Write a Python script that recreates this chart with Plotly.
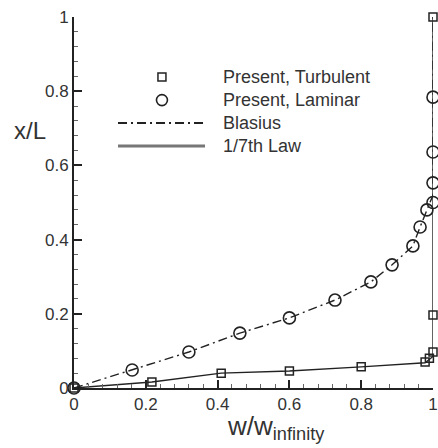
import plotly.graph_objects as go

# ---- data ----
turb_w = [0.0, 0.217, 0.41, 0.60, 0.80, 0.978, 0.99, 1.0, 1.0, 1.0]
turb_x = [0.0, 0.016, 0.040, 0.046, 0.057, 0.070, 0.080, 0.097, 0.197, 1.0]

lam_w = [0.0, 0.162, 0.32, 0.462, 0.60, 0.727, 0.827, 0.886, 0.944, 0.964, 0.983, 1.0, 1.0, 1.0, 1.0]
lam_x = [0.0, 0.0485, 0.097, 0.148, 0.189, 0.237, 0.286, 0.332, 0.383, 0.434, 0.48, 0.50, 0.553, 0.636, 0.784]

blasius_w = [0.0, 0.162, 0.32, 0.462, 0.60, 0.727, 0.827, 0.886, 0.944, 0.964, 0.983, 1.0, 1.0]
blasius_x = [0.0, 0.0485, 0.097, 0.148, 0.189, 0.237, 0.286, 0.332, 0.383, 0.434, 0.48, 0.52, 1.0]

law_w = [0.0, 0.217, 0.41, 0.60, 0.80, 0.978, 1.0, 1.0]
law_x = [0.0, 0.016, 0.040, 0.046, 0.057, 0.068, 0.085, 1.0]

legend_labels = ["Present, Turbulent", "Present, Laminar", "Blasius", "1/7th Law"]
tick_vals = [0, 0.2, 0.4, 0.6, 0.8, 1]
tick_text = ["0", "0.2", "0.4", "0.6", "0.8", "1"]

INK = "#222222"
TXT = "#333333"
FONT = "Liberation Sans, Arial, sans-serif"

fig = go.Figure()
fig.add_trace(go.Scatter(x=law_w, y=law_x, mode="lines",
                         line=dict(color=INK, width=1.4), cliponaxis=False))
fig.add_trace(go.Scatter(x=blasius_w, y=blasius_x, mode="lines",
                         line=dict(color=INK, width=1.4, dash="9px,4px,2px,4px"),
                         cliponaxis=False))
fig.add_trace(go.Scatter(x=turb_w, y=turb_x, mode="markers", cliponaxis=False,
                         marker=dict(symbol="square-open", size=8, color=INK,
                                     line=dict(width=1.5, color=INK))))
fig.add_trace(go.Scatter(x=lam_w, y=lam_x, mode="markers", cliponaxis=False,
                         marker=dict(symbol="circle-open", size=12, color=INK,
                                     line=dict(width=1.6, color=INK))))

axis_common = dict(
    range=[0, 1], tickvals=tick_vals, ticktext=tick_text, automargin=False,
    ticks="inside", ticklen=8, tickwidth=1.5, tickcolor=INK,
    showline=True, linecolor=INK, linewidth=1.8, showgrid=False, zeroline=False,
    tickfont=dict(family=FONT, size=17, color=TXT),
    minor=dict(dtick=0.04, ticks="inside", ticklen=4, tickwidth=1, tickcolor="#666666",
               showgrid=False),
)
fig.update_xaxes(**axis_common)
fig.update_yaxes(**axis_common)

# manual legend (paper coords; plot spans pixel x 74..433, y 17..388)
mx = 0.245
fig.add_shape(type="rect", xref="paper", yref="paper", xsizemode="pixel", ysizemode="pixel",
              xanchor=mx, yanchor=0.838, x0=-4, x1=4, y0=-4, y1=4,
              line=dict(color=INK, width=1.5))
fig.add_shape(type="circle", xref="paper", yref="paper", xsizemode="pixel", ysizemode="pixel",
              xanchor=mx, yanchor=0.776, x0=-5.5, x1=5.5, y0=-5.5, y1=5.5,
              line=dict(color=INK, width=1.6))
fig.add_shape(type="line", xref="paper", yref="paper", x0=0.1226, x1=0.365, y0=0.714, y1=0.714,
              line=dict(color=INK, width=2, dash="9px,4px,2px,4px"))
fig.add_shape(type="line", xref="paper", yref="paper", x0=0.1226, x1=0.365, y0=0.652, y1=0.652,
              line=dict(color="#777777", width=3))
for lbl, yy in zip(legend_labels, [0.838, 0.776, 0.714, 0.652]):
    fig.add_annotation(text=lbl, xref="paper", yref="paper", x=0.4095, y=yy,
                       xanchor="left", yanchor="middle", showarrow=False,
                       font=dict(family=FONT, size=18, color=TXT))

# axis titles
fig.add_annotation(text="x/L", xref="paper", yref="paper", x=-0.123, y=0.695,
                   xanchor="center", yanchor="middle", showarrow=False,
                   font=dict(family=FONT, size=24, color=TXT))
fig.add_annotation(text="w/w<sub>infinity</sub>", xref="paper", yref="paper",
                   x=0.42, y=-0.155, xanchor="left", yanchor="bottom", showarrow=False,
                   font=dict(family=FONT, size=26, color=TXT))

fig.update_layout(
    width=438, height=448, showlegend=False,
    margin=dict(l=74, r=5, t=17, b=60, autoexpand=False),
    plot_bgcolor="white", paper_bgcolor="white",
)

fig.write_html("out.html", config={"displayModeBar": False},
               post_script="document.body.style.margin='0';document.body.style.overflow='hidden';")
